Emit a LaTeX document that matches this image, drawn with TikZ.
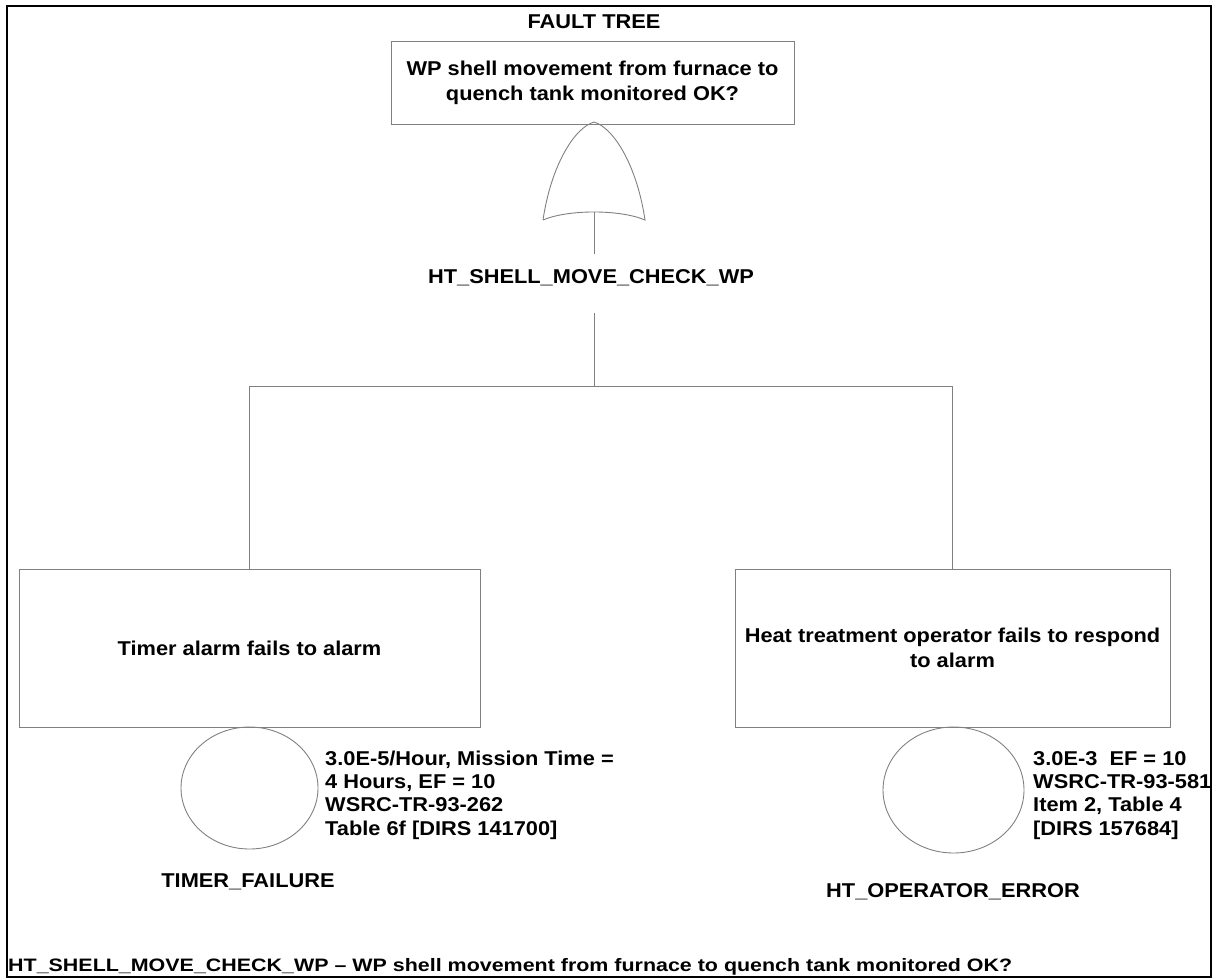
\documentclass[tikz,border=0pt]{standalone}
\usepackage{fontspec}
\usepackage{graphicx}
\setmainfont{Liberation Sans}[FakeStretch=1.09]
\newfontfamily\plainsans{Liberation Sans}[Ligatures=TeX]
\usetikzlibrary{shapes.geometric}
\tikzset{
  ln/.style={draw=black!50, line width=0.9pt},
  evbox/.style={ln, rectangle, inner sep=0pt, align=center, font=\fontsize{20}{25}\selectfont\bfseries},
  lbl/.style={inner sep=0pt, anchor=base, font=\fontsize{20}{25}\selectfont\bfseries},
  info/.style={inner sep=0pt, anchor=base west, align=left, font=\fontsize{20}{23.3}\selectfont\bfseries},
  basic/.style={ln, ellipse, inner sep=0pt},
}
\begin{document}
\begin{tikzpicture}[x=1pt,y=-1pt]
\useasboundingbox (0,0) rectangle (1222,979);
\draw[line width=2.6pt] (7,6) rectangle (1211,977);

\node[lbl] (title) at (594,29) {FAULT TREE};

\node[evbox, minimum width=403pt, minimum height=83pt] (top) at (592.5,82.5)
  {WP shell movement from furnace to\\quench tank monitored OK?};

% OR gate
\coordinate (gtip) at (594,122);
\coordinate (gl) at (543,220);
\coordinate (gr) at (645,220);
\coordinate (gb) at (594,212);
\coordinate (gstem) at (594,254);
\draw[ln] (gl) .. controls (551,166) and (574,128) .. (gtip)
  .. controls (614,128) and (637,166) .. (gr)
  .. controls (620,209.3) and (568,209.3) .. (gl);
\draw[ln] (gb) -- (gstem);

\node[lbl] (gname) at (591,283) {HT\_SHELL\_MOVE\_CHECK\_WP};

\coordinate (gout) at (594,313);
\coordinate (j) at (594,386);
\coordinate (jl) at (249,386);
\coordinate (jr) at (952,386);

\node[evbox, minimum width=461pt, minimum height=158pt] (timer) at (249.5,648)
  {Timer alarm fails to alarm};
\node[evbox, minimum width=435pt, minimum height=158pt] (oper) at (952.5,648)
  {Heat treatment operator fails to respond\\to alarm};

\draw[ln] (gout) -- (j);
\draw[ln] (jl) -- (jr);
\draw[ln] (jl) -- (jl |- timer.north);
\draw[ln] (jr) -- (jr |- oper.north);

\node[basic, minimum width=137pt, minimum height=122pt] (c1) at (249.5,788) {};
\node[basic, minimum width=141pt, minimum height=126pt] (c2) at (953.5,790) {};

\node[info] (t1) at (325,835) {3.0E-5/Hour, Mission Time =\\4 Hours, EF = 10\\WSRC-TR-93-262\\Table 6f [DIRS 141700]};
\node[info] (t2) at (1033,835) {3.0E-3\ \ EF = 10\\WSRC-TR-93-581\\Item 2, Table 4\\[0pt][DIRS 157684]};

\node[lbl] (n1) at (248,887) {TIMER\_FAILURE};
\node[lbl] (n2) at (953,897) {HT\_OPERATOR\_ERROR};

\node[inner sep=0pt, anchor=base west] (cap) at (8,971)
  {\resizebox{1004pt}{\height}{\plainsans\fontsize{18}{20}\selectfont\bfseries HT\_SHELL\_MOVE\_CHECK\_WP – WP shell movement from furnace to quench tank monitored OK?}};
\end{tikzpicture}
\end{document}
